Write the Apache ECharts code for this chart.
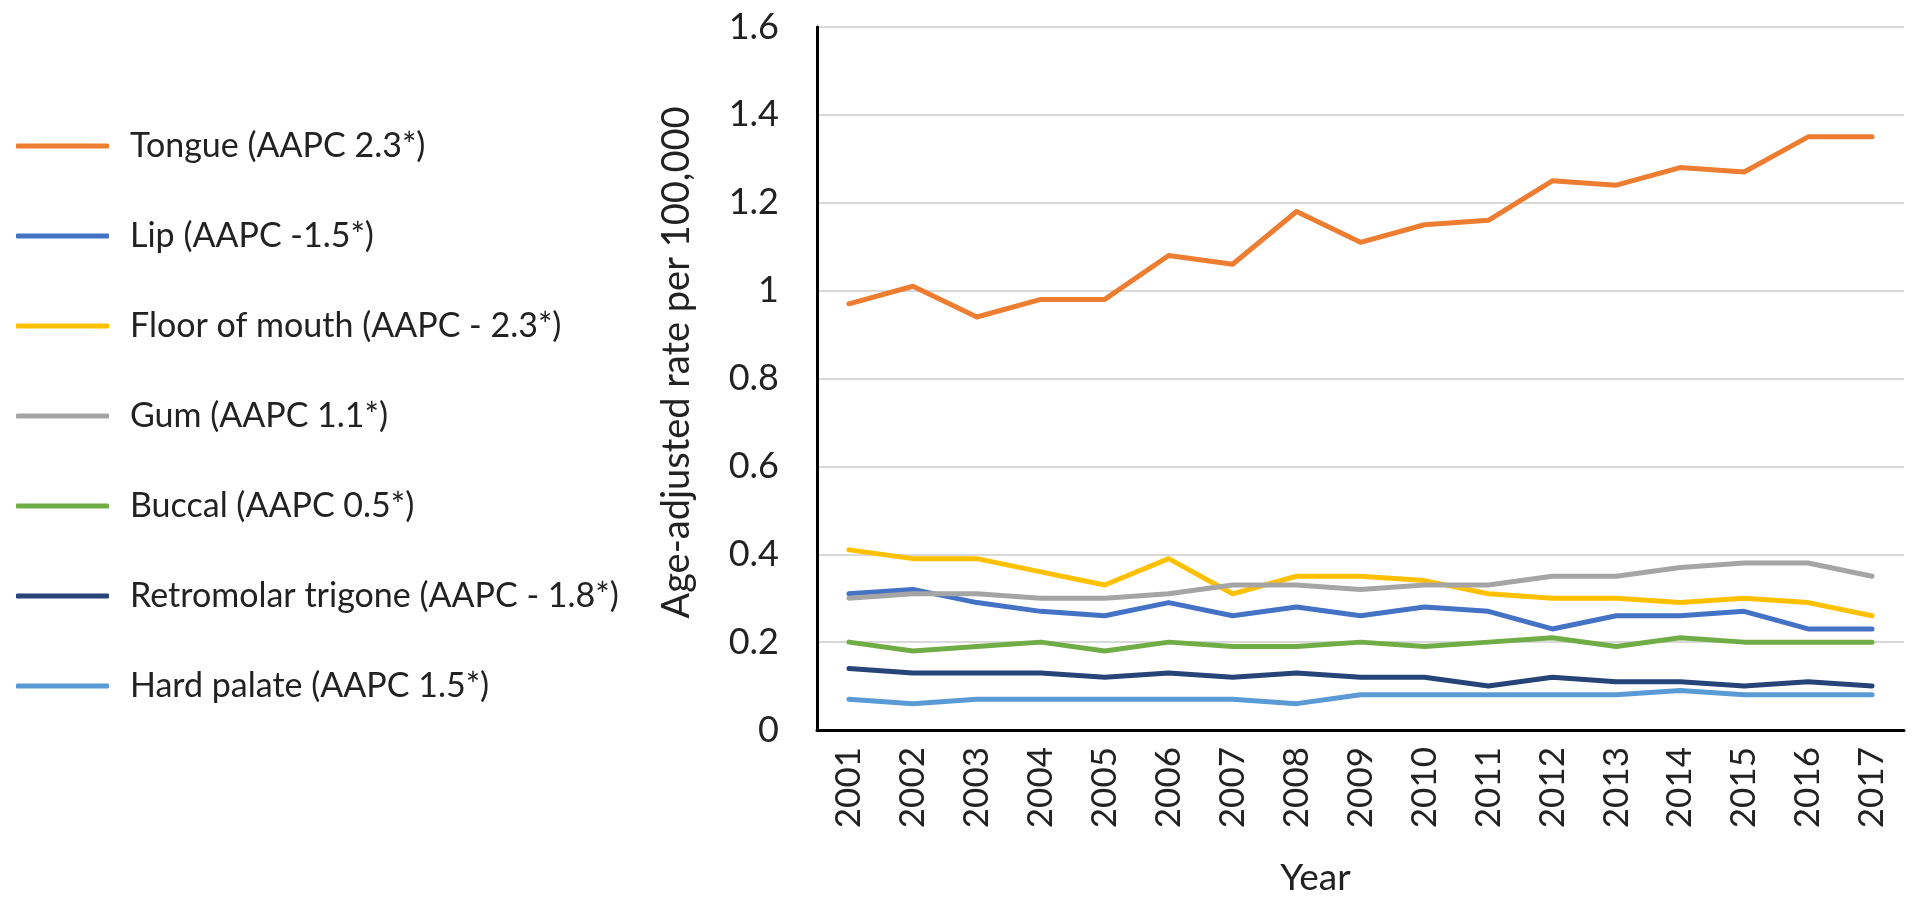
<!DOCTYPE html>
<html>
<head>
<meta charset="utf-8">
<script src="https://cdn.jsdelivr.net/npm/echarts@6/dist/echarts.min.js"></script>
<style>
  html, body { margin: 0; padding: 0; background: #fff; }
  #main { width: 1920px; height: 902px; }
</style>
</head>
<body>
<div id="main"></div>
<script>
var years = ['2001','2002','2003','2004','2005','2006','2007','2008','2009','2010','2011','2012','2013','2014','2015','2016','2017'];

var tongue     = [0.97, 1.01, 0.94, 0.98, 0.98, 1.08, 1.06, 1.18, 1.11, 1.15, 1.16, 1.25, 1.24, 1.28, 1.27, 1.35, 1.35];
var lip        = [0.31, 0.32, 0.29, 0.27, 0.26, 0.29, 0.26, 0.28, 0.26, 0.28, 0.27, 0.23, 0.26, 0.26, 0.27, 0.23, 0.23];
var floorMouth = [0.41, 0.39, 0.39, 0.36, 0.33, 0.39, 0.31, 0.35, 0.35, 0.34, 0.31, 0.30, 0.30, 0.29, 0.30, 0.29, 0.26];
var gum        = [0.30, 0.31, 0.31, 0.30, 0.30, 0.31, 0.33, 0.33, 0.32, 0.33, 0.33, 0.35, 0.35, 0.37, 0.38, 0.38, 0.35];
var buccal     = [0.20, 0.18, 0.19, 0.20, 0.18, 0.20, 0.19, 0.19, 0.20, 0.19, 0.20, 0.21, 0.19, 0.21, 0.20, 0.20, 0.20];
var retromolar = [0.14, 0.13, 0.13, 0.13, 0.12, 0.13, 0.12, 0.13, 0.12, 0.12, 0.10, 0.12, 0.11, 0.11, 0.10, 0.11, 0.10];
var hardPalate = [0.07, 0.06, 0.07, 0.07, 0.07, 0.07, 0.07, 0.06, 0.08, 0.08, 0.08, 0.08, 0.08, 0.09, 0.08, 0.08, 0.08];

var names  = ['Tongue (AAPC 2.3*)', 'Lip (AAPC -1.5*)', 'Floor of mouth (AAPC - 2.3*)', 'Gum (AAPC 1.1*)',
              'Buccal (AAPC 0.5*)', 'Retromolar trigone (AAPC - 1.8*)', 'Hard palate (AAPC 1.5*)'];
var colors = ['#ED7D31', '#4472C4', '#FFC000', '#A5A5A5', '#70AD47', '#264478', '#5B9BD5'];
var values = [tongue, lip, floorMouth, gum, buccal, retromolar, hardPalate];

var font = 'Lato, "Open Sans", sans-serif';
var myChart = echarts.init(document.getElementById('main'));

var option = {
    animation: false,
    color: colors,
    textStyle: { fontFamily: font },
    legend: {
        orient: 'vertical',
        left: 16,
        top: 128,
        padding: 0,
        itemWidth: 93,
        itemHeight: 5,
        itemGap: 54,
        icon: 'roundRect',
        textStyle: { fontSize: 34, lineHeight: 36, color: '#222', padding: [0, 0, 0, 16] },
        data: names
    },
    grid: { left: 817, right: 16, top: 27, bottom: 171 },
    xAxis: {
        type: 'category',
        data: years,
        boundaryGap: true,
        name: 'Year',
        nameLocation: 'middle',
        nameGap: 130,
        nameTextStyle: { fontSize: 37, color: '#222', padding: [0, 90, 0, 0] },
        axisLine: { lineStyle: { color: '#000', width: 3 } },
        axisTick: { show: false },
        axisLabel: { rotate: 90, margin: 17, fontSize: 35, color: '#222' }
    },
    yAxis: {
        type: 'value',
        min: 0,
        max: 1.6,
        interval: 0.2,
        name: 'Age-adjusted rate per 100,000',
        nameLocation: 'middle',
        nameGap: 121,
        nameTextStyle: { fontSize: 38, color: '#222', padding: [0, 0, 0, 32] },
        axisLine: { show: true, lineStyle: { color: '#000', width: 3 } },
        axisTick: { show: false },
        axisLabel: { margin: 38, fontSize: 36, color: '#222' },
        splitLine: { lineStyle: { color: '#d9d9d9', width: 2 } }
    },
    series: values.map(function (v, i) {
        return {
            name: names[i],
            type: 'line',
            data: v,
            symbol: 'none',
            lineStyle: { width: 5, color: colors[i], cap: 'round', join: 'round' }
        };
    })
};

myChart.setOption(option);
</script>
</body>
</html>
